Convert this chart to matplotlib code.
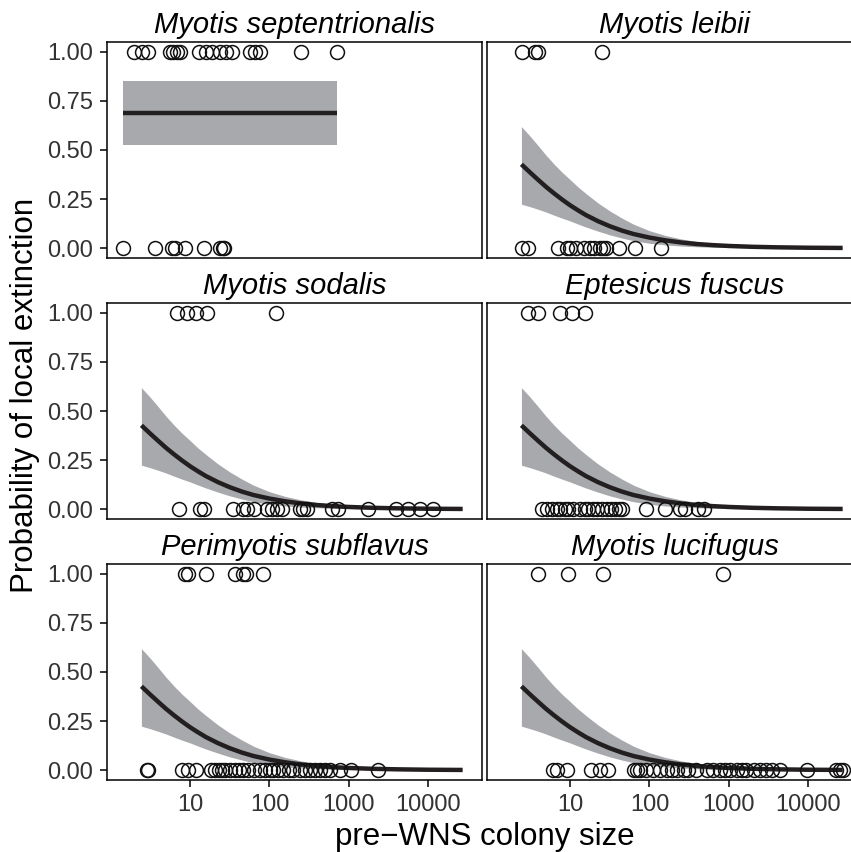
import matplotlib
matplotlib.use("Agg")
import matplotlib.pyplot as plt
import numpy as np

plt.rcParams['font.family'] = ['Liberation Sans', 'DejaVu Sans']

# ---------------- data (colony sizes) ----------------
species = ["Myotis septentrionalis", "Myotis leibii", "Myotis sodalis",
           "Eptesicus fuscus", "Perimyotis subflavus", "Myotis lucifugus"]

sept_extinct = [2.0, 2.5, 3.0, 5.6, 6.2, 6.8, 7.5, 13, 16, 19, 24, 28, 34, 57, 66, 76, 250, 710]
sept_persist = [1.44, 3.6, 5.9, 6.5, 8.7, 15, 24, 26, 27]

leib_extinct = [2.5, 3.6, 4.0, 25]
leib_persist = [2.5, 3.0, 7.1, 9.1, 10, 12, 15, 18, 20, 24, 26, 28, 41, 66, 141]

soda_extinct = [6.8, 9.1, 12, 16.5, 120]
soda_persist = [7.3, 13.4, 15, 35, 47, 52, 63, 92, 107, 123, 142, 240, 267, 294,
                610, 735, 1750, 3950, 5560, 7800, 11500]

fusc_extinct = [3.0, 4.0, 7.5, 10.5, 15.4]
fusc_persist = [4.4, 5.1, 5.9, 6.8, 7.4, 8.7, 9.5, 11, 13.5, 15.5, 17, 19.5, 22, 25,
                29, 33, 37, 41, 45, 91, 155, 240, 282, 407, 479]

subf_extinct = [8.7, 9.5, 16, 37, 47, 51, 83]
subf_persist = [3.0, 2.9, 7.9, 9.5, 12, 18.6, 20.4, 23, 25, 27.5, 31.6, 37, 41, 47, 54,
                63, 76, 87, 102, 112, 129, 148, 174, 200, 240, 282, 324, 372, 437,
                501, 575, 776, 1070, 2340]

luci_extinct = [4.0, 9.5, 26, 830]
luci_persist = [6.2, 6.8, 9.1, 18.6, 24, 30, 63, 69, 76, 91, 112, 135, 166, 191, 219,
                269, 309, 389, 525, 631, 776, 891, 1020, 1260, 1450, 1660, 2040, 2450,
                2950, 3470, 4370, 9550, 22400, 25100, 27500]

extinct = [sept_extinct, leib_extinct, soda_extinct, fusc_extinct, subf_extinct, luci_extinct]
persist = [sept_persist, leib_persist, soda_persist, fusc_persist, subf_persist, luci_persist]

# fitted curve (shared by five species)
curve_x = [2.45, 3.16, 3.98, 5.01, 6.31, 7.94, 10, 12.6, 15.8, 22.4, 31.6, 44.7, 63.1,
           100, 158, 251, 398, 631, 1000, 1995, 3981, 10000, 26900]
curve_fit = [0.427, 0.385, 0.348, 0.312, 0.279, 0.248, 0.219, 0.193, 0.169, 0.138, 0.112,
             0.090, 0.072, 0.054, 0.040, 0.029, 0.021, 0.0155, 0.0113, 0.0070, 0.0044,
             0.0023, 0.0012]
curve_hi = [0.619, 0.570, 0.522, 0.473, 0.428, 0.387, 0.350, 0.312, 0.279, 0.231, 0.190,
            0.154, 0.122, 0.089, 0.065, 0.047, 0.034, 0.024, 0.0176, 0.011, 0.0068,
            0.0036, 0.0018]
curve_lo = [0.224, 0.211, 0.198, 0.184, 0.168, 0.153, 0.139, 0.123, 0.108, 0.087, 0.068,
            0.052, 0.038, 0.025, 0.0165, 0.0109, 0.0072, 0.0047, 0.0031, 0.0017, 0.001,
            0.0005, 0.0002]

# constant fit for Myotis septentrionalis
sept_fit = 0.69
sept_lo = 0.525
sept_hi = 0.85

yticks = [0.0, 0.25, 0.5, 0.75, 1.0]
ytick_labels = ["0.00", "0.25", "0.50", "0.75", "1.00"]
xticks = [10, 100, 1000, 10000]
xtick_labels = ["10", "100", "1000", "10000"]

# ---------------- layout ----------------
W, H = 851, 852
fig = plt.figure(figsize=(W / 100, H / 100), dpi=100)

def rect(l, t, w, h):
    return [l / W, 1 - (t + h) / H, w / W, h / H]

tops = [42, 303, 564]
lefts = [107, 487]
pw, ph = 375, 216

band_col = "#A7A9AC"
line_col = "#231F20"

for i, name in enumerate(species):
    r, c = divmod(i, 2)
    ax = fig.add_axes(rect(lefts[c], tops[r], pw, ph))
    ax.set_xscale("log")
    ax.set_xlim(0.904, 47100)
    ax.set_ylim(-0.05, 1.05)
    if i == 0:
        xs = [min(sept_extinct + sept_persist), max(sept_extinct + sept_persist)]
        ax.fill_between(xs, [sept_lo] * 2, [sept_hi] * 2, color=band_col, lw=0, zorder=1)
        ax.plot(xs, [sept_fit] * 2, color=line_col, lw=3.2, solid_capstyle="butt", zorder=2)
    else:
        ax.fill_between(curve_x, curve_lo, curve_hi, color=band_col, lw=0, zorder=1)
        ax.plot(curve_x, curve_fit, color=line_col, lw=3.2, solid_capstyle="butt", zorder=2)
    ax.plot(extinct[i], [1] * len(extinct[i]), 'o', mfc='none', mec='#111111',
            ms=10, mew=1.1, zorder=3, clip_on=False)
    ax.plot(persist[i], [0] * len(persist[i]), 'o', mfc='none', mec='#111111',
            ms=10, mew=1.1, zorder=3, clip_on=False)

    for s in ax.spines.values():
        s.set_linewidth(1.1)
        s.set_color("black")
    ax.minorticks_off()
    ax.set_yticks(yticks)
    ax.set_xticks(xticks)
    ax.tick_params(axis="both", length=5, width=1.1, color="black",
                   labelcolor="#333333", labelsize=17, pad=5)
    if c == 0:
        ax.set_yticklabels(ytick_labels)
    else:
        ax.tick_params(axis="y", left=False, labelleft=False)
    if r == 2:
        ax.set_xticklabels(xtick_labels)
    else:
        ax.tick_params(axis="x", bottom=False, labelbottom=False)
    ax.set_title(name, style="italic", fontsize=21, pad=6.5)

fig.text(25 / W, 1 - 395 / H, "Probability of local extinction", rotation=90,
         ha="center", va="center", fontsize=22.5)
fig.text(484.5 / W, 1 - 845 / H, "pre\u2212WNS colony size", ha="center", va="baseline",
         fontsize=22.5)

fig.savefig("out.png", dpi=100)
